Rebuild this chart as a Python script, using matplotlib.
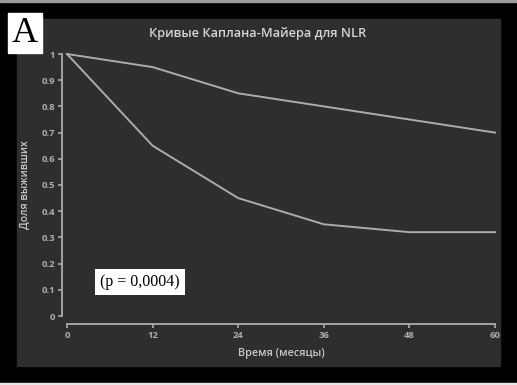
import matplotlib.pyplot as plt
from matplotlib.patches import Rectangle

# Données
mois = [0, 12, 24, 36, 48, 60]
survie_haute = [1.0, 0.95, 0.85, 0.80, 0.75, 0.70]
survie_basse = [1.0, 0.65, 0.45, 0.35, 0.32, 0.32]
yticks = [0, 0.1, 0.2, 0.3, 0.4, 0.5, 0.6, 0.7, 0.8, 0.9, 1.0]
ylabels = ["0", "0.1", "0.2", "0.3", "0.4", "0.5", "0.6", "0.7", "0.8", "0.9", "1"]

W, H = 517, 385
fond = "#2e2e2e"
gris = "#acacac"
police = ["Open Sans", "DejaVu Sans"]

fig = plt.figure(figsize=(W / 100, H / 100), dpi=100, facecolor="black")

# Panneau gris foncé, bordures claires en haut et en bas
fig.patches.append(Rectangle((17 / W, (H - 366) / H), 483 / W, 347 / H,
                             transform=fig.transFigure, color=fond, zorder=-2))
fig.patches.append(Rectangle((0, (H - 2) / H), 1, 2 / H,
                             transform=fig.transFigure, color="#9a9a9a", zorder=-2))
fig.patches.append(Rectangle((0, 0), 1, 2 / H,
                             transform=fig.transFigure, color="#e8e8e8", zorder=-2))

ax = fig.add_axes([67 / W, (H - 316) / H, 428 / W, 262 / H])
ax.set_zorder(2)
ax.set_facecolor("none")
ax.plot(mois, survie_haute, color=gris, lw=1.4, clip_on=False)
ax.plot(mois, survie_basse, color=gris, lw=1.4, clip_on=False)

ax.set_xlim(0, 60)
ax.set_ylim(0, 1)
ax.set_xticks(mois)
ax.set_yticks(yticks)
ax.set_yticklabels(ylabels)

for s in ["top", "right"]:
    ax.spines[s].set_visible(False)
ax.spines["left"].set_position(("outward", 3.6))
ax.spines["bottom"].set_position(("outward", 5.8))
for s in ["left", "bottom"]:
    ax.spines[s].set_color(gris)
    ax.spines[s].set_linewidth(1.3)
ax.tick_params(colors=gris, labelsize=6.8, length=3, width=1.2, pad=2)
for lab in ax.get_xticklabels() + ax.get_yticklabels():
    lab.set_family(police)
    lab.set_fontweight("bold")

ax.set_xlabel("Время (месяцы)", color="#c8c8c8", fontsize=7.8, family=police,
              fontweight="semibold", labelpad=6)
ax.set_ylabel("Доля выживших", color="#c8c8c8", fontsize=7.6, family=police,
              fontweight="semibold", labelpad=8)

fig.text(258 / W, (H - 34) / H, "Кривые Каплана-Майера для NLR", color="#d4d4d4",
         fontsize=9.2, family=police, fontweight="semibold", ha="center", va="center", zorder=3)

# Encadré p
fig.text(140 / W, (H - 282) / H, "(p = 0,0004)", fontsize=11.5, family="Liberation Serif",
         color="black", ha="center", va="center", zorder=3,
         bbox=dict(boxstyle="square,pad=0.3", fc="white", ec="none"))

# Lettre A
fig.patches.append(Rectangle((8 / W, (H - 53) / H), 34 / W, 40 / H,
                             transform=fig.transFigure, color="white", zorder=1))
fig.text(25 / W, (H - 34) / H, "A", fontsize=26, family="Liberation Serif",
         color="black", ha="center", va="center", zorder=3)

fig.savefig("out.png", dpi=100, facecolor="black")
